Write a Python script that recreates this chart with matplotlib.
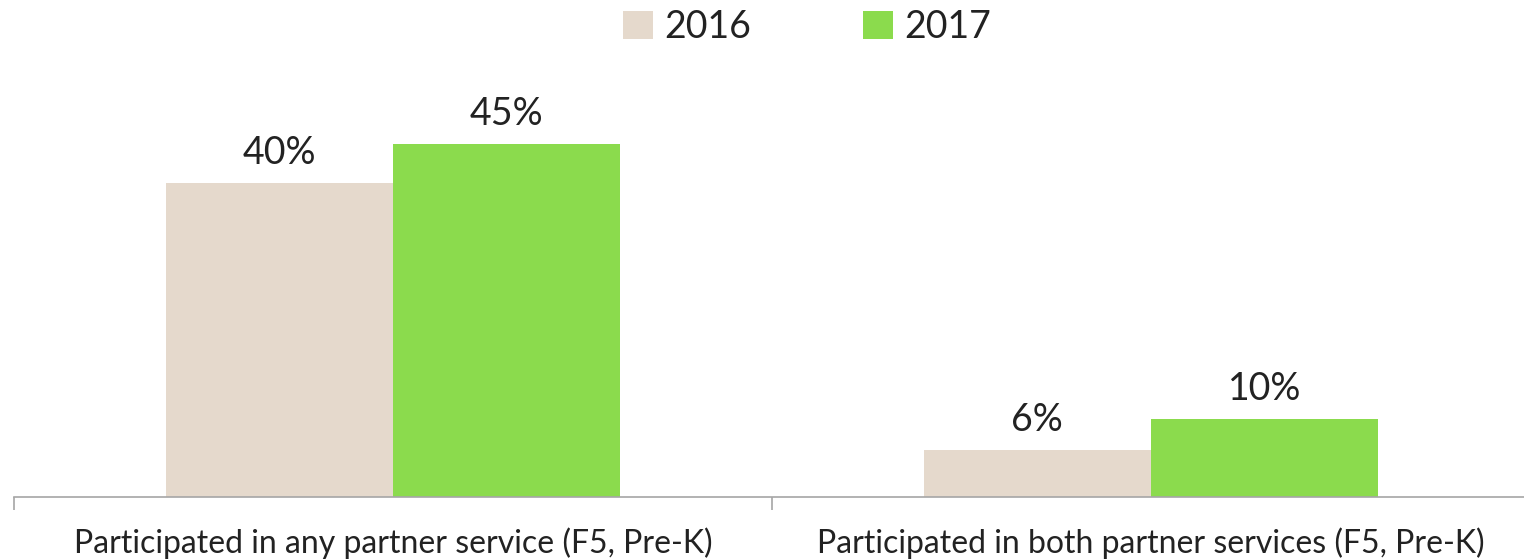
import numpy as np
import matplotlib.pyplot as plt

categories = ['Participated in any partner service (F5, Pre-K)',
              'Participated in both partner services (F5, Pre-K)']
years = ['2016', '2017']
vals_2016 = [0.40, 0.06]
vals_2017 = [0.45, 0.10]
colors = ['#E5D9CC', '#8BDB4D']

plt.rcParams['font.family'] = ['Lato', 'DejaVu Sans']

fig = plt.figure(figsize=(15.24, 5.59), dpi=100)
ax = fig.add_axes([14 / 1524, 62 / 559, 1516 / 1524, 0.702])

x = np.arange(len(categories))
w = 0.3
b1 = ax.bar(x - w / 2, vals_2016, w, color=colors[0], label=years[0])
b2 = ax.bar(x + w / 2, vals_2017, w, color=colors[1], label=years[1])

for bars in (b1, b2):
    for r in bars:
        ax.text(r.get_x() + r.get_width() / 2, r.get_height() + 0.015,
                '{:.0f}%'.format(r.get_height() * 100),
                ha='center', va='bottom', fontsize=27, color='#222222')

ax.set_xlim(-0.5, 1.5)
ax.set_ylim(0, 0.5)
ax.set_xticks(x)
ax.set_xticklabels(categories, fontsize=23, color='#222222')
ax.set_xticks([-0.5, 0.5, 1.5], minor=True)
ax.tick_params(axis='x', which='major', length=0, pad=22)
ax.tick_params(axis='x', which='minor', length=9, color='#A6A6A6', width=1.2)
ax.set_yticks([])
for s in ['top', 'right', 'left']:
    ax.spines[s].set_visible(False)
ax.spines['bottom'].set_color('#A6A6A6')
ax.spines['bottom'].set_linewidth(1.2)

fig.legend(loc='center', bbox_to_anchor=(807 / 1524, 1 - 27 / 559), ncol=2,
           frameon=False, fontsize=27, handlelength=0.8, handleheight=0.8,
           handletextpad=0.3, columnspacing=3.0, labelcolor='#222222')

fig.savefig('out.png', dpi=100)
